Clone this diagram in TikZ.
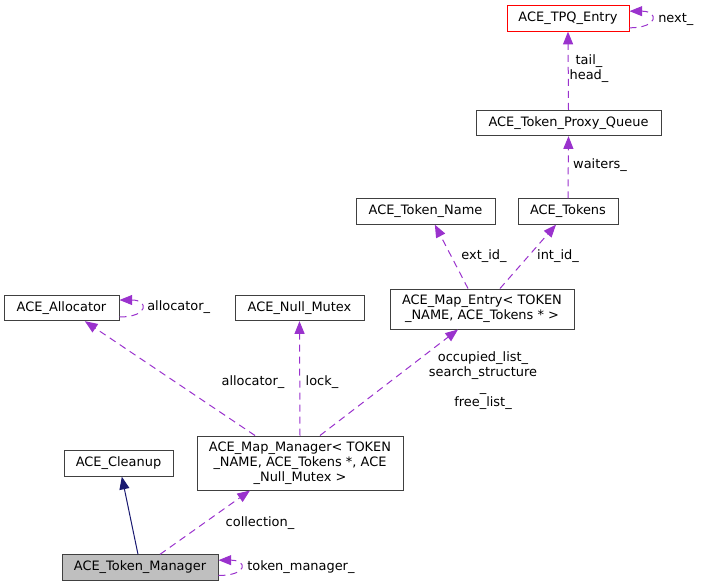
\documentclass[tikz,border=0pt]{standalone}
\usepackage{fontspec}
\setmainfont{DejaVu Sans}
\usepackage{tikz}
\usetikzlibrary{arrows.meta}
\definecolor{usecol}{HTML}{9A32CD}
\definecolor{inhcol}{HTML}{191970}
\definecolor{curcol}{HTML}{BFBFBF}

\begin{document}
\begin{tikzpicture}[x=0.75pt,y=-0.75pt]
	\tikzset{cls/.style = {rectangle,draw=black!75,line width=0.75pt,inner sep=0pt,align=center,
		minimum height=19pt,font=\fontsize{9.7}{11.25}\selectfont}}
	\tikzset{lbl/.style = {inner sep=0pt,align=center,font=\fontsize{9.7}{11.25}\selectfont}}
	\tikzstyle{edge} = [-{Triangle[length=9.5pt,width=7.5pt]},usecol,line width=0.75pt,dash pattern=on 5.25pt off 3.75pt]
	\tikzstyle{edgeInh} = [-{Triangle[length=9.5pt,width=7.5pt]},inhcol,line width=0.75pt]
	\useasboundingbox (0,0) rectangle (701,587);
	%classes
	\node[cls,draw=red,minimum width=91.5pt] (tpq) at (568,18.5) {ACE\_TPQ\_Entry};
	\node[cls,minimum width=138.75pt] (proxyq) at (568.5,123) {ACE\_Token\_Proxy\_Queue};
	\node[cls,minimum width=104.25pt] (tokname) at (425.5,211.5) {ACE\_Token\_Name};
	\node[cls,minimum width=75pt] (tokens) at (568,211.5) {ACE\_Tokens};
	\node[cls,minimum width=138pt,minimum height=30pt] (mapentry) at (482,309) {ACE\_Map\_Entry< TOKEN\\\_NAME, ACE\_Tokens * >};
	\node[cls,minimum width=86.25pt] (alloc) at (61.5,308) {ACE\_Allocator};
	\node[cls,minimum width=96.75pt] (nullmutex) at (299.5,308) {ACE\_Null\_Mutex};
	\node[cls,minimum width=81.75pt] (cleanup) at (118.5,463.5) {ACE\_Cleanup};
	\node[cls,minimum width=154.5pt,minimum height=40.5pt] (mapman) at (300,463) {ACE\_Map\_Manager< TOKEN\\\_NAME, ACE\_Tokens *, ACE\\\_Null\_Mutex >};
	\node[cls,fill=curcol,minimum width=117pt] (tokman) at (140,567.5) {ACE\_Token\_Manager};
	%usage
	\draw[edge] ([yshift=-7pt]tpq.east) .. controls +(22pt,0) and +(22pt,0) .. ([yshift=5.5pt]tpq.east);
	\draw[edge] (proxyq.north) -- (tpq.south);
	\draw[edge] (tokens.north) -- (proxyq.south);
	\draw[edge] ([xshift=-10.5pt]mapentry.north) -- ([xshift=7pt]tokname.south);
	\draw[edge] ([xshift=13.5pt]mapentry.north) -- ([xshift=-9pt]tokens.south);
	\draw[edge] ([yshift=-6.75pt]alloc.east) .. controls +(22pt,0) and +(22pt,0) .. ([yshift=6pt]alloc.east);
	\draw[edge] ([xshift=15pt]mapman.north) -- ([xshift=-18pt]mapentry.south);
	\draw[edge] ([xshift=-33.75pt]mapman.north) -- ([xshift=17.5pt]alloc.south);
	\draw[edge] (mapman.north) -- (nullmutex.south);
	\draw[edge] ([xshift=15pt]tokman.north) -- ([xshift=-37.5pt]mapman.south);
	\draw[edge] ([yshift=-6pt]tokman.east) .. controls +(22pt,0) and +(22pt,0) .. ([yshift=5.5pt]tokman.east);
	%inheritance
	\draw[edgeInh] ([xshift=-1.5pt]tokman.north) -- ([xshift=2.5pt]cleanup.south);
	%labels
	\node[lbl,anchor=west] (lnext) at (658,19) {next\_};
	\node[lbl] (lhead) at (589,69) {tail\_\\head\_};
	\node[lbl] (lwait) at (600,165) {waiters\_};
	\node[lbl] (lext) at (484,256) {ext\_id\_};
	\node[lbl] (lint) at (558,256) {int\_id\_};
	\node[lbl] (llist) at (483,381) {occupied\_list\_\\search\_structure\\\_\\free\_list\_};
	\node[lbl] (lalloc) at (253,382) {allocator\_};
	\node[lbl] (llock) at (322,382) {lock\_};
	\node[lbl,anchor=west] (lallocself) at (147,307) {allocator\_};
	\node[lbl] (lcoll) at (260,523) {collection\_};
	\node[lbl,anchor=west] (ltokman) at (247,567) {token\_manager\_};
\end{tikzpicture}
\end{document}
